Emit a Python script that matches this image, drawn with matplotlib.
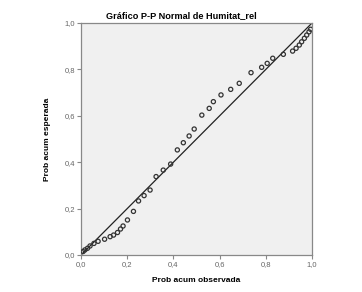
import matplotlib
matplotlib.use("Agg")
import matplotlib.pyplot as plt

plt.rcParams['font.family'] = ['Liberation Sans', 'DejaVu Sans']

prob_obs = [0.009, 0.017, 0.028, 0.039, 0.056, 0.074, 0.102, 0.126, 0.141, 0.158,
            0.171, 0.182, 0.201, 0.227, 0.249, 0.273, 0.299, 0.325, 0.356, 0.388,
            0.417, 0.443, 0.468, 0.490, 0.523, 0.555, 0.573, 0.606, 0.648, 0.685,
            0.736, 0.782, 0.806, 0.830, 0.876, 0.916, 0.931, 0.945, 0.955, 0.967,
            0.977, 0.987, 0.994]
prob_esp = [0.015, 0.022, 0.029, 0.039, 0.050, 0.059, 0.068, 0.079, 0.086, 0.097,
            0.112, 0.125, 0.151, 0.188, 0.233, 0.256, 0.280, 0.338, 0.366, 0.392,
            0.453, 0.484, 0.513, 0.543, 0.603, 0.632, 0.661, 0.690, 0.714, 0.740,
            0.786, 0.809, 0.826, 0.848, 0.865, 0.879, 0.891, 0.905, 0.919, 0.934,
            0.948, 0.962, 0.973]
ticks = [0.0, 0.2, 0.4, 0.6, 0.8, 1.0]
tick_labels = ["0,0", "0,2", "0,4", "0,6", "0,8", "1,0"]

fig = plt.figure(figsize=(3.62, 2.92), dpi=100)
ax = fig.add_axes([0.2238, 0.1267, 0.6381, 0.7945])
ax.set_facecolor("#f0f0f0")

ax.plot([0, 1], [0, 1], color="#222222", lw=0.9, zorder=2)
ax.scatter(prob_obs, prob_esp, s=9, facecolors="none", edgecolors="#333333",
           linewidths=0.9, zorder=3)

ax.set_xlim(0, 1)
ax.set_ylim(0, 1)
ax.set_xticks(ticks)
ax.set_xticklabels(tick_labels)
ax.set_yticks(ticks)
ax.set_yticklabels(tick_labels)
ax.tick_params(direction="out", length=3, width=0.8, colors="#888888",
               labelsize=5.5, labelcolor="#666666", pad=1)
for s in ax.spines.values():
    s.set_color("#888888")
    s.set_linewidth(0.9)

# title sits centred on the figure, not the axes
fig.text(0.5, 0.947, "Gráfico P-P Normal de Humitat_rel", fontsize=6.6,
         fontweight="bold", ha="center", va="center")
ax.set_xlabel("Prob acum observada", fontsize=6, fontweight="bold", labelpad=7)
ax.set_ylabel("Prob acum esperada", fontsize=6, fontweight="bold", labelpad=10)

fig.savefig("out.png", dpi=100)
